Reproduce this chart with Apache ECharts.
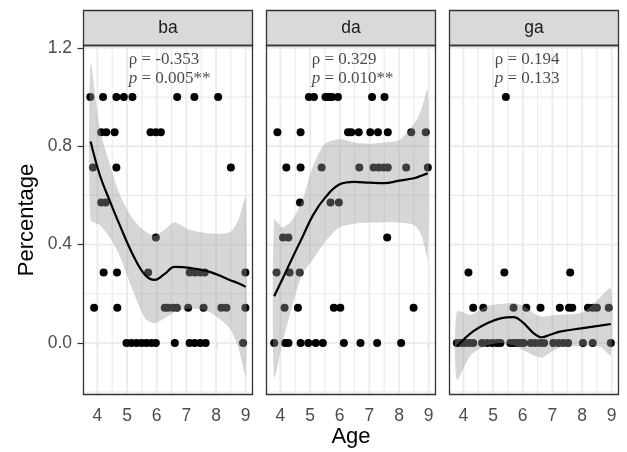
<!DOCTYPE html>
<html><head><meta charset="utf-8">
<script src="https://cdn.jsdelivr.net/npm/echarts@6/dist/echarts.min.js"></script>
<style>html,body{margin:0;padding:0;background:#fff}#c{width:627px;height:452px}</style>
</head><body><div id="c"></div>
<script>
// ---------- data ----------
const panels = ['ba', 'da', 'ga'];
const xTicks = [4, 5, 6, 7, 8, 9];
const xMinor = [4.5, 5.5, 6.5, 7.5, 8.5];
const yTicks = [0, 0.4, 0.8, 1.2];
const yMinor = [-0.2, 0.2, 0.6, 1.0];
const rhoLabels = ['-0.353', '0.329', '0.194'];
const pLabels = ['0.005**', '0.010**', '0.133'];

const baPoints = [
  [3.76,1],[4.19,1],[4.64,1],[4.89,1],[5.18,1],[6.69,1],[7.27,1],[8.07,1],
  [4.13,0.857],[4.30,0.857],[4.58,0.857],[5.79,0.857],[5.97,0.857],[6.14,0.857],
  [3.85,0.714],[4.64,0.714],[8.50,0.714],
  [4.13,0.571],[4.28,0.571],
  [5.97,0.429],
  [4.21,0.286],[4.66,0.286],[5.71,0.286],[7.11,0.286],[7.29,0.286],[7.47,0.286],[7.62,0.286],[8.99,0.286],
  [3.89,0.143],[4.67,0.143],[6.27,0.143],[6.38,0.143],[6.55,0.143],[6.68,0.143],[7.06,0.143],[7.58,0.143],[8.18,0.143],[8.35,0.143],[8.99,0.143],
  [4.98,0],[5.15,0],[5.32,0],[5.49,0],[5.65,0],[5.82,0],[5.97,0],[6.61,0],[7.11,0],[7.28,0],[7.47,0],[7.65,0],[8.91,0]
];
const daPoints = [
  [4.96,1],[5.13,1],[5.52,1],[5.63,1],[5.74,1],[5.94,1],[7.09,1],[7.51,1],
  [3.90,0.857],[4.68,0.857],[6.28,0.857],[6.39,0.857],[6.64,0.857],[7.03,0.857],[7.29,0.857],[7.62,0.857],[8.41,0.857],[8.90,0.857],
  [4.20,0.714],[4.68,0.714],[5.39,0.714],[6.66,0.714],[7.14,0.714],[7.31,0.714],[7.48,0.714],[7.62,0.714],[8.24,0.714],[8.97,0.714],
  [4.66,0.571],[5.69,0.571],[5.97,0.571],
  [4.09,0.429],[4.27,0.429],[7.60,0.429],
  [3.87,0.286],[4.31,0.286],[4.65,0.286],
  [4.14,0.143],[4.59,0.143],[5.80,0.143],[6.02,0.143],[8.49,0.143],
  [3.79,0],[4.16,0],[4.27,0],[4.68,0],[4.94,0],[5.19,0],[5.43,0],[6.14,0],[6.70,0],[7.26,0],[8.07,0]
];
const gaPoints = [
  [5.43,1],
  [4.17,0.286],[5.38,0.286],[7.60,0.286],
  [4.33,0.143],[4.67,0.143],[5.69,0.143],[6.12,0.143],[6.60,0.143],[7.25,0.143],[7.56,0.143],[7.67,0.143],[8.20,0.143],[8.36,0.143],[8.50,0.143],[8.90,0.143],
  [3.78,0],[3.91,0],[4.05,0],[4.19,0],[4.33,0],[4.63,0],[4.80,0],[4.97,0],[5.13,0],[5.25,0],[5.58,0],[5.69,0],[5.80,0],[5.92,0],[6.03,0],[6.27,0],[6.42,0],[6.59,0],[6.72,0],[7.03,0],[7.20,0],[7.37,0],[7.53,0],[8.03,0],[8.36,0],[8.97,0]
];

// loess fits with confidence band
const baAge = [3.77, 4.08, 4.41, 4.75, 5.19, 5.6, 5.93, 6.26, 6.6, 7.11, 7.79, 8.46, 8.75, 9.0];
const baFit = [0.819, 0.683, 0.58, 0.48, 0.36, 0.277, 0.256, 0.28, 0.309, 0.305, 0.289, 0.256, 0.243, 0.228];
const baLo  = [0.50, 0.48, 0.43, 0.355, 0.215, 0.10, 0.08, 0.10, 0.125, 0.14, 0.125, 0.06, -0.02, -0.13];
const baHi  = [1.14, 0.87, 0.73, 0.605, 0.505, 0.455, 0.435, 0.46, 0.49, 0.46, 0.445, 0.45, 0.50, 0.59];

const daAge = [3.79, 4.07, 4.4, 4.74, 5.1, 5.5, 6.0, 6.5, 7.0, 7.5, 8.0, 8.5, 8.75, 8.97];
const daFit = [0.19, 0.26, 0.345, 0.43, 0.52, 0.59, 0.645, 0.655, 0.652, 0.65, 0.66, 0.67, 0.68, 0.69];
const daLo  = [-0.14, 0.0, 0.15, 0.28, 0.34, 0.41, 0.47, 0.485, 0.49, 0.49, 0.49, 0.48, 0.44, 0.345];
const daHi  = [0.50, 0.47, 0.50, 0.58, 0.72, 0.81, 0.83, 0.815, 0.81, 0.815, 0.825, 0.89, 0.95, 1.03];

const gaAge = [3.78, 4.25, 4.8, 5.25, 5.69, 6.03, 6.36, 6.64, 6.92, 7.25, 8.03, 8.6, 8.97];
const gaFit = [-0.015, 0.04, 0.08, 0.10, 0.105, 0.08, 0.04, 0.023, 0.033, 0.046, 0.06, 0.07, 0.077];
const gaLo  = [-0.15, -0.05, -0.01, 0.0, -0.01, -0.03, -0.05, -0.06, -0.04, -0.02, -0.012, -0.015, -0.05];
const gaHi  = [0.127, 0.115, 0.15, 0.158, 0.162, 0.15, 0.122, 0.107, 0.11, 0.114, 0.125, 0.185, 0.222];

// ---------- layout ----------
const xMin = 3.514, xMax = 9.246, yMin = -0.212, yMax = 1.212;
const gridLeft = [83, 266, 449], gridTop = 45, gridW = 170, gridH = 350;
const stripTop = 10, stripH = 35;
const SANS = 'Liberation Sans', SERIF = 'Liberation Serif';

const points = [baPoints, daPoints, gaPoints];
const fits = [[baAge, baFit, baLo, baHi], [daAge, daFit, daLo, daHi], [gaAge, gaFit, gaLo, gaHi]];

const gridData = [];
xTicks.forEach(v => gridData.push([0, v, 1]));
xMinor.forEach(v => gridData.push([0, v, 0]));
yTicks.forEach(v => gridData.push([1, v, 1]));
yMinor.forEach(v => gridData.push([1, v, 0]));

function gridRender(params, api) {
  const o = api.value(0), v = api.value(1), maj = api.value(2);
  let p1, p2;
  if (o === 0) { p1 = api.coord([v, yMin]); p2 = api.coord([v, yMax]); }
  else { p1 = api.coord([xMin, v]); p2 = api.coord([xMax, v]); }
  return { type: 'line', shape: { x1: p1[0], y1: p1[1], x2: p2[0], y2: p2[1] },
    style: { stroke: '#EBEBEB', lineWidth: maj ? 1.8 : 1.1 } };
}
function ribbonRender(age, lo, hi) {
  return function (params, api) {
    if (params.dataIndex !== 0) return { type: 'group', children: [] };
    const pts = [];
    for (let i = 0; i < age.length; i++) pts.push(api.coord([age[i], hi[i]]));
    for (let i = age.length - 1; i >= 0; i--) pts.push(api.coord([age[i], lo[i]]));
    return { type: 'polygon', shape: { points: pts, smooth: 0.25 },
      style: { fill: 'rgba(153,153,153,0.4)' } };
  };
}

const grids = [], xAxes = [], yAxes = [], series = [], graphics = [];
panels.forEach((name, i) => {
  grids.push({ left: gridLeft[i], top: gridTop, width: gridW, height: gridH, show: false });
  xAxes.push({ type: 'value', gridIndex: i, min: xMin, max: xMax,
    axisLine: { show: false }, splitLine: { show: false },
    axisTick: { show: true, length: 5.5, customValues: xTicks, lineStyle: { color: '#333', width: 1.2 } },
    axisLabel: { customValues: xTicks, margin: 12, fontSize: 17.5, color: '#4D4D4D', fontFamily: SANS,
      formatter: v => String(v) } });
  yAxes.push({ type: 'value', gridIndex: i, min: yMin, max: yMax,
    axisLine: { show: false }, splitLine: { show: false },
    axisTick: { show: i === 0, length: 5.5, customValues: yTicks, lineStyle: { color: '#333', width: 1.2 } },
    axisLabel: { show: i === 0, customValues: yTicks, margin: 11, fontSize: 17.5, color: '#4D4D4D', fontFamily: SANS,
      formatter: v => v.toFixed(1) } });

  series.push({ type: 'custom', xAxisIndex: i, yAxisIndex: i, z: 1, silent: true,
    renderItem: gridRender, data: gridData, encode: { x: 1, y: 1 } });
  series.push({ type: 'scatter', xAxisIndex: i, yAxisIndex: i, z: 2, symbolSize: 8,
    itemStyle: { color: '#000', opacity: 1 }, data: points[i] });
  const f = fits[i];
  series.push({ type: 'custom', xAxisIndex: i, yAxisIndex: i, z: 3, silent: true,
    renderItem: ribbonRender(f[0], f[2], f[3]), data: f[0].map((a, k) => [a, f[1][k]]) });
  series.push({ type: 'line', xAxisIndex: i, yAxisIndex: i, z: 4, smooth: 0.4, symbol: 'none',
    lineStyle: { color: '#000', width: 2.2 }, data: f[0].map((a, k) => [a, f[1][k]]) });
  series.push({ type: 'scatter', xAxisIndex: i, yAxisIndex: i, z: 5, symbolSize: 1,
    itemStyle: { color: 'transparent' }, silent: true,
    data: [[5.07, 1.113]],
    label: { show: true, position: [0, 0], align: 'left', verticalAlign: 'middle',
      formatter: '{a|ρ = ' + rhoLabels[i] + '}\n{b|p}{a| = ' + pLabels[i] + '}',
      rich: {
        a: { fontFamily: SERIF, fontSize: 17, color: '#1A1A1A', lineHeight: 19 },
        b: { fontFamily: SERIF, fontSize: 17, color: '#1A1A1A', lineHeight: 19, fontStyle: 'italic' }
      } } });

  // strip
  graphics.push({ type: 'rect', z: 100, shape: { x: gridLeft[i] + 0.5, y: stripTop + 0.5, width: gridW - 1, height: stripH },
    style: { fill: '#D9D9D9', stroke: '#333', lineWidth: 1.3 } });
  graphics.push({ type: 'text', z: 101, x: gridLeft[i] + gridW / 2, y: stripTop + stripH / 2 + 0.5,
    style: { text: name, fontFamily: SANS, fontSize: 17.5, fill: '#1A1A1A', align: 'center', verticalAlign: 'middle' } });
  // panel border
  graphics.push({ type: 'rect', z: 100, shape: { x: gridLeft[i] + 0.5, y: gridTop + 0.5, width: gridW - 1, height: gridH - 1 },
    style: { fill: 'none', stroke: '#333', lineWidth: 1.3 } });
});

graphics.push({ type: 'text', z: 101, x: 27, y: gridTop + gridH / 2, rotation: Math.PI / 2,
  style: { text: 'Percentage', fontFamily: SANS, fontSize: 22, fill: '#000', align: 'center', verticalAlign: 'middle' } });
graphics.push({ type: 'text', z: 101, x: (gridLeft[0] + gridLeft[2] + gridW) / 2, y: 437,
  style: { text: 'Age', fontFamily: SANS, fontSize: 22, fill: '#000', align: 'center', verticalAlign: 'middle' } });

const chart = echarts.init(document.getElementById('c'), null, { renderer: 'canvas' });
chart.setOption({
  animation: false,
  backgroundColor: '#fff',
  grid: grids, xAxis: xAxes, yAxis: yAxes, series: series, graphic: graphics
});
</script></body></html>
